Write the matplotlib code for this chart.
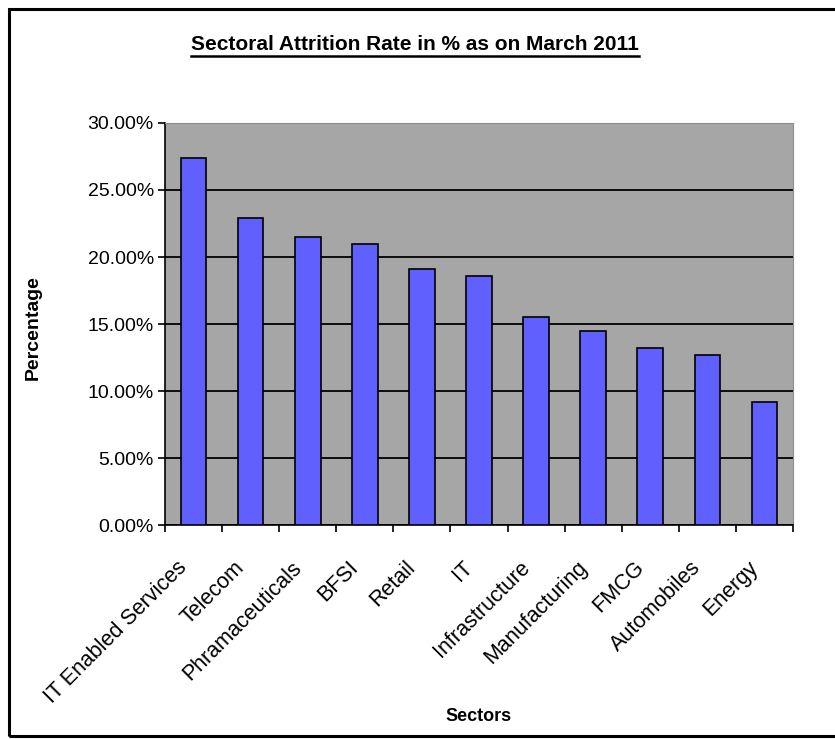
import matplotlib.pyplot as plt
from matplotlib.patches import Rectangle
from matplotlib.lines import Line2D
from matplotlib.ticker import FixedLocator, FuncFormatter
from matplotlib.transforms import ScaledTranslation

sectors = ["IT Enabled Services", "Telecom", "Phramaceuticals", "BFSI", "Retail", "IT",
           "Infrastructure", "Manufacturing", "FMCG", "Automobiles", "Energy"]
rates = [27.4, 22.9, 21.5, 21.0, 19.1, 18.6, 15.5, 14.5, 13.2, 12.7, 9.2]
yticks = [0, 5, 10, 15, 20, 25, 30]

plt.rcParams['font.family'] = ['Liberation Sans', 'DejaVu Sans']

fig = plt.figure(figsize=(8.35, 7.40), dpi=100)
ax = fig.add_axes([0.1976, 0.2905, 0.7521, 0.5433])
ax.set_facecolor("#a6a6a6")

x = list(range(len(sectors)))
ax.bar(x, rates, width=0.45, color="#6060ff", edgecolor="black", linewidth=1.2, zorder=3)

ax.set_xlim(-0.5, len(sectors) - 0.5)
ax.set_ylim(0, 30)
ax.set_yticks(yticks)
ax.yaxis.set_major_formatter(FuncFormatter(lambda v, p: f"{v:.2f}%"))
ax.grid(axis="y", color="black", linewidth=1.3, zorder=1)
ax.tick_params(axis="y", length=5, width=1.2, labelsize=14, pad=3)

# category labels: rotated, ending just left of and below each category centre
ax.set_xticks(x)
ax.set_xticklabels([])
ax.tick_params(axis="x", which="major", length=0)
offset = ScaledTranslation(-17 / 100, -32 / 100, fig.dpi_scale_trans)
for i, name in zip(x, sectors):
    ax.text(i, 0, name, transform=ax.get_xaxis_transform() + offset, rotation=45,
            ha="right", va="top", rotation_mode="anchor", fontsize=15.5)
ax.xaxis.set_minor_locator(FixedLocator([i - 0.5 for i in range(len(sectors) + 1)]))
ax.tick_params(axis="x", which="minor", length=5, width=1.2)

for s in ["top", "right"]:
    ax.spines[s].set_color("#8c8c8c")
for s in ["left", "bottom"]:
    ax.spines[s].set_linewidth(1.2)

ax.set_ylabel("Percentage", fontsize=14, fontweight="bold")
ax.yaxis.set_label_coords(-0.196, 0.49)
ax.set_xlabel("Sectors", fontsize=13, fontweight="bold")
ax.xaxis.set_label_coords(0.5, -0.455)

title = fig.text(0.497, 0.932, "Sectoral Attrition Rate in % as on March 2011", ha="center",
                 va="baseline", fontsize=15, fontweight="bold")

# underline the title
fig.canvas.draw()
bb = title.get_window_extent().transformed(fig.transFigure.inverted())
fig.add_artist(Line2D([bb.x0, bb.x1], [bb.y0 - 0.002, bb.y0 - 0.002], color="black", linewidth=1.8))

# outer frame
fig.add_artist(Rectangle((0.011, 0.006), 1.0, 0.982, transform=fig.transFigure,
                         fill=False, edgecolor="black", linewidth=2.2))

fig.savefig("out.png", dpi=100)
